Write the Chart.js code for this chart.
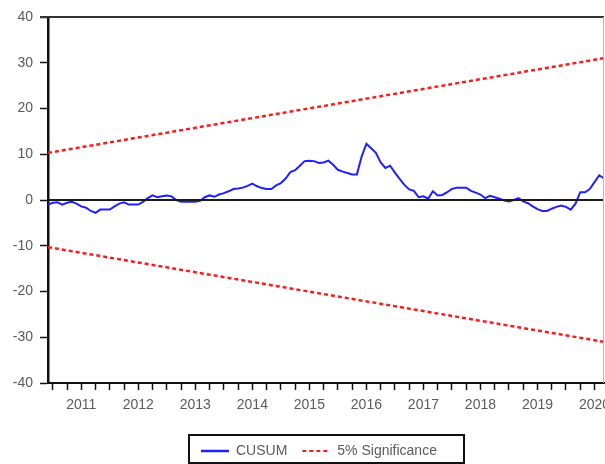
<!DOCTYPE html>
<html>
<head>
<meta charset="utf-8">
<title>CUSUM</title>
<style>
  html, body { margin: 0; padding: 0; background: #ffffff; }
  #wrap { width: 605px; height: 464px; position: relative; }
</style>
<script src="https://cdn.jsdelivr.net/npm/chart.js@4.4.1/dist/chart.umd.min.js"></script>
</head>
<body>
<div id="wrap"><canvas id="c" width="605" height="464"></canvas></div>
<script>
// Recursive-residual CUSUM, monthly, first observation 2010M12
const firstMonth = [2010, 12];
const cusum = [
  -1.0, -0.6, -0.5, -1.0, -0.6, -0.4, -0.8, -1.4, -1.7, -2.4,
  -2.8, -2.1, -2.1, -2.1, -1.4, -0.8, -0.5, -1.0, -1.0, -1.0,
  -0.4,  0.4,  1.0,  0.6,  0.8,  1.0,  0.8,  0.0, -0.4, -0.4,
  -0.4, -0.4, -0.2,  0.6,  1.0,  0.7,  1.2,  1.5,  1.9,  2.4,
   2.5,  2.7,  3.1,  3.6,  3.0,  2.6,  2.4,  2.4,  3.2,  3.7,
   4.7,  6.1,  6.5,  7.5,  8.5,  8.6,  8.5,  8.1,  8.2,  8.6,
   7.7,  6.6,  6.2,  5.9,  5.6,  5.6,  9.5, 12.3, 11.3, 10.3,
   8.2,  7.0,  7.5,  6.0,  4.6,  3.3,  2.3,  2.0,  0.6,  0.8,
   0.3,  1.9,  1.0,  1.1,  1.7,  2.4,  2.7,  2.7,  2.7,  2.0,
   1.6,  1.2,  0.4,  0.9,  0.6,  0.3, -0.1, -0.3,  0.0,  0.4,
  -0.3, -0.7, -1.4, -2.0, -2.4, -2.4, -1.9, -1.5, -1.2, -1.5,
  -2.1, -0.8,  1.7,  1.7,  2.4,  3.9,  5.4,  4.7
];

// 5% significance bounds at the first and last observation
const bandEnds  = ['2010M12', '2020M09'];
const upperBand = [10.3, 31.0];
const lowerBand = [-10.3, -31.0];

const yTicks = [-40, -30, -20, -10, 0, 10, 20, 30, 40];
const yearLabels = [2011, 2012, 2013, 2014, 2015, 2016, 2017, 2018, 2019, 2020];

const FONT = '"Liberation Sans", Arial, sans-serif';
const TEXT_GREY = '#5a5a5a';

function monthToYear(label) {
  const [y, m] = label.split('M').map(Number);
  return y + (m - 1) / 12;
}

const months = cusum.map((_, i) => {
  const t = firstMonth[0] * 12 + (firstMonth[1] - 1) + i;
  return Math.floor(t / 12) + 'M' + String(t % 12 + 1).padStart(2, '0');
});

const xMin = monthToYear(months[0]);
const xMax = monthToYear(months[months.length - 1]);

// Quarterly tick marks; year names sit in the middle of each year
const quarterTicks = [];
for (const yr of yearLabels) {
  for (let q = 0; q < 4; q++) quarterTicks.push(yr + q / 4);
}

// Zero reference line on top of the series, plus the plot frame
const framePlugin = {
  id: 'frame',
  afterDatasetsDraw(chart) {
    const { ctx, chartArea: a, scales } = chart;
    const y0 = Math.round(scales.y.getPixelForValue(0));
    ctx.save();
    ctx.strokeStyle = '#1a1a1a';
    ctx.lineWidth = 2;
    ctx.beginPath();
    ctx.moveTo(a.left, y0);
    ctx.lineTo(a.right, y0);
    ctx.stroke();
    ctx.strokeStyle = '#333333';
    ctx.lineWidth = 2;
    ctx.beginPath();
    ctx.moveTo(a.left - 8, a.top);
    ctx.lineTo(a.right, a.top);
    ctx.stroke();
    ctx.strokeStyle = '#b8b8b8';
    ctx.lineWidth = 1;
    ctx.beginPath();
    ctx.moveTo(a.right - 0.5, a.top);
    ctx.lineTo(a.right - 0.5, a.bottom);
    ctx.stroke();
    ctx.restore();
  }
};

// Boxed legend centred under the plot
const boxLegendPlugin = {
  id: 'boxLegend',
  afterDraw(chart) {
    const { ctx, chartArea: a } = chart;
    const cx = (a.left + a.right) / 2;
    const boxW = 275, boxH = 28;
    const left = Math.round(cx - boxW / 2);
    const top = a.bottom + 52;
    const midY = top + boxH / 2 + 2;
    ctx.save();
    ctx.strokeStyle = '#111111';
    ctx.lineWidth = 2;
    ctx.strokeRect(left, top, boxW, boxH);

    const items = [chart.data.datasets[0], chart.data.datasets[1]];
    let x = left + 12;
    ctx.font = '14px ' + FONT;
    ctx.textBaseline = 'middle';
    ctx.fillStyle = TEXT_GREY;
    items.forEach((ds, k) => {
      ctx.strokeStyle = ds.borderColor;
      ctx.lineWidth = k === 0 ? 2.5 : 2;
      ctx.setLineDash(ds.borderDash || []);
      ctx.beginPath();
      ctx.moveTo(x, midY);
      ctx.lineTo(x + 28, midY);
      ctx.stroke();
      ctx.setLineDash([]);
      x += 35;
      ctx.fillText(ds.label, x, midY);
      x += ctx.measureText(ds.label).width + 15;
    });
    ctx.restore();
  }
};

new Chart(document.getElementById('c'), {
  type: 'line',
  data: {
    datasets: [
      {
        label: 'CUSUM',
        data: months.map((m, i) => ({ x: monthToYear(m), y: cusum[i] })),
        borderColor: '#2020ff',
        borderWidth: 2,
        pointRadius: 0,
        tension: 0,
        order: 1
      },
      {
        label: '5% Significance',
        data: bandEnds.map((m, i) => ({ x: monthToYear(m), y: upperBand[i] })),
        borderColor: '#ff1a1a',
        borderWidth: 2.5,
        borderDash: [4, 3],
        pointRadius: 0,
        order: 2
      },
      {
        label: '5% Significance',
        data: bandEnds.map((m, i) => ({ x: monthToYear(m), y: lowerBand[i] })),
        borderColor: '#ff1a1a',
        borderWidth: 2.5,
        borderDash: [4, 3],
        pointRadius: 0,
        order: 2
      }
    ]
  },
  options: {
    responsive: false,
    animation: false,
    devicePixelRatio: 1,
    layout: { padding: { top: 17, right: 1, left: 0, bottom: 0 } },
    plugins: {
      legend: { display: false },
      tooltip: { enabled: false }
    },
    scales: {
      x: {
        type: 'linear',
        min: xMin,
        max: xMax,
        afterBuildTicks: s => { s.ticks = quarterTicks.map(v => ({ value: v })); },
        afterFit: s => { s.height = 81; s.paddingLeft = 0; s.paddingRight = 0; },
        ticks: {
          autoSkip: false,
          maxRotation: 0,
          padding: 7,
          color: TEXT_GREY,
          font: { family: FONT, size: 14 },
          callback: v => (Math.abs(v - Math.floor(v) - 0.5) < 1e-6 ? String(Math.floor(v)) : '')
        },
        grid: { drawOnChartArea: false, tickLength: 7, tickColor: '#111111', tickWidth: 1.5 },
        border: { color: '#111111', width: 2 }
      },
      y: {
        min: -40,
        max: 40,
        afterBuildTicks: s => { s.ticks = yTicks.map(v => ({ value: v })); },
        afterFit: s => { s.width = 48; s.paddingTop = 0; s.paddingBottom = 0; },
        ticks: {
          padding: 7,
          color: TEXT_GREY,
          font: { family: FONT, size: 14 }
        },
        grid: { drawOnChartArea: false, tickLength: 8, tickColor: '#111111', tickWidth: 1.5 },
        border: { color: '#111111', width: 2.5 }
      }
    }
  },
  plugins: [framePlugin, boxLegendPlugin]
});
</script>
</body>
</html>
